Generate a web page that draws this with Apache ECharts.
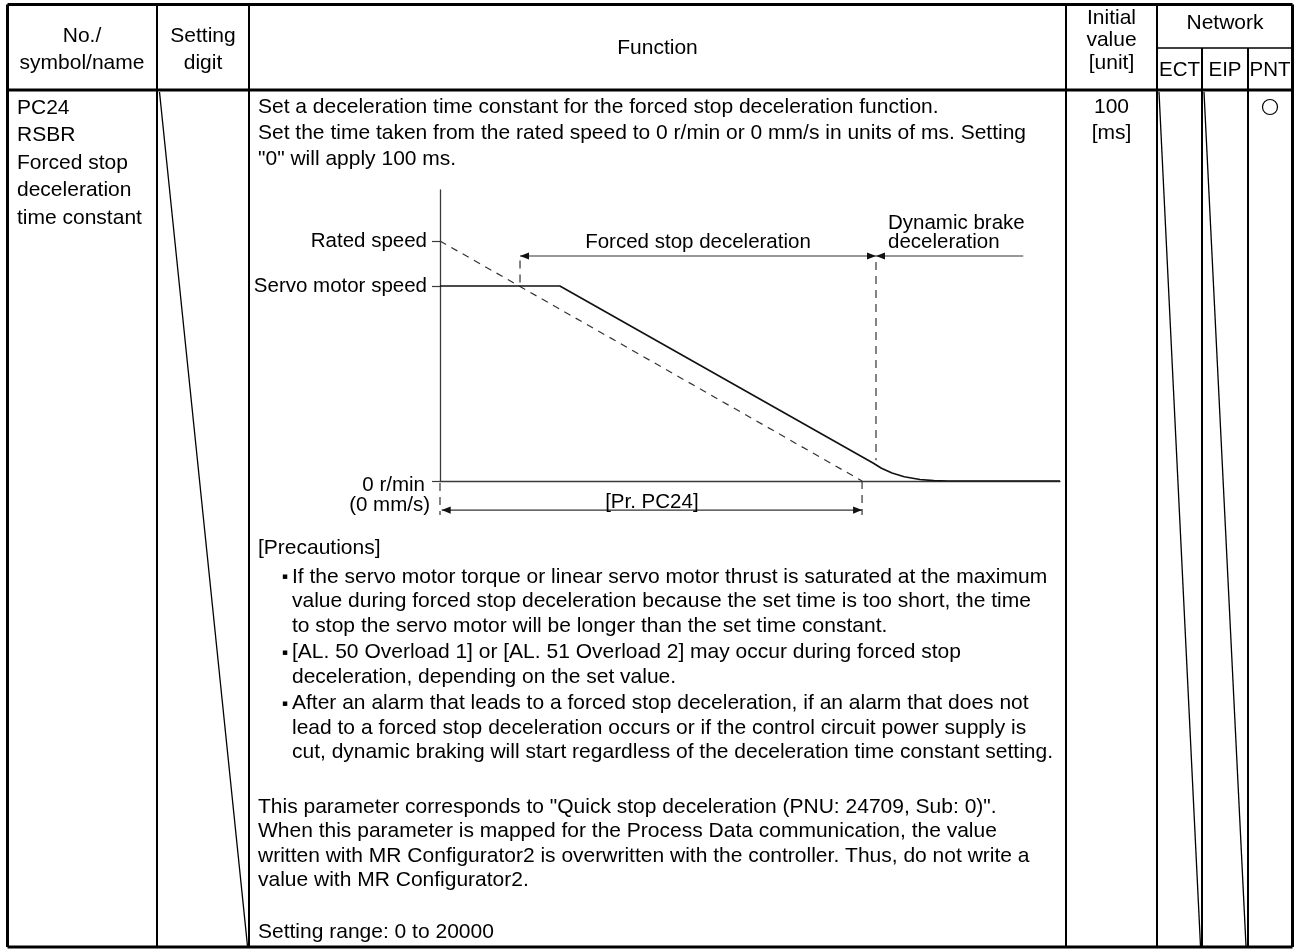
<!DOCTYPE html>
<html><head><meta charset="utf-8">
<script src="https://cdn.jsdelivr.net/npm/echarts@6/dist/echarts.min.js"></script>
<style>html,body{margin:0;padding:0;background:#fff}#c{width:1298px;height:950px}</style>
</head><body><div id="c"></div>
<script>
(function () {
// ---------------- data ----------------
// time axis: 100 = [Pr. PC24] (time from rated speed to 0), speed axis: 100 = rated speed
const timeRange = [0, 146.9];
const speedRange = [0, 121.25];
const speedTickValues = [100, 81.25, 0];
const speedTickNames = ['Rated speed', 'Servo motor speed', '0 r/min'];
const zeroSubLabel = '(0 mm/s)';
const ratedDecel = [[0, 100], [100, 0]];
const servoSpeed = [[0, 81.25], [28.4, 81.25], [102.6, 7.5], [104.6, 5.3], [107.1, 3.3], [110, 1.8], [113.7, 0.6], [117, 0.15], [120.4, 0], [146.9, 0]];
// [t1, v1, t2, v2, arrowAtStart, arrowAtEnd, dashed]
const dimensionLines = [
  [18.96, 93.75, 103.3, 93.75, 1, 1, 0],
  [103.3, 93.75, 138.2, 93.75, 1, 0, 0],
  [0.4, -12.1, 100, -12.1, 1, 1, 0],
  [18.96, 91.9, 18.96, 81.25, 0, 0, 1],
  [103.3, 91.2, 103.3, 8.6, 0, 0, 1],
  [0, -0.8, 0, -14.2, 0, 0, 1],
  [100, 0, 100, -14.2, 0, 0, 1]
];
const forcedLabel = 'Forced stop deceleration';
const brakeLabel = ['Dynamic brake', 'deceleration'];
const pc24Label = '[Pr. PC24]';

const headerCol1 = ['No./', 'symbol/name'];
const headerCol2 = ['Setting', 'digit'];
const headerFunction = 'Function';
const headerInitial = ['Initial', 'value', '[unit]'];
const headerNetwork = 'Network';
const networkNames = ['ECT', 'EIP', 'PNT'];
const nameLines = ['PC24', 'RSBR', 'Forced stop', 'deceleration', 'time constant'];
const initialValue = ['100', '[ms]'];
const introLines = [
  'Set a deceleration time constant for the forced stop deceleration function.',
  'Set the time taken from the rated speed to 0 r/min or 0 mm/s in units of ms. Setting',
  '"0" will apply 100 ms.'
];
const precautionsTitle = '[Precautions]';
const precautionItems = [
  ['If the servo motor torque or linear servo motor thrust is saturated at the maximum',
   'value during forced stop deceleration because the set time is too short, the time',
   'to stop the servo motor will be longer than the set time constant.'],
  ['[AL. 50 Overload 1] or [AL. 51 Overload 2] may occur during forced stop',
   'deceleration, depending on the set value.'],
  ['After an alarm that leads to a forced stop deceleration, if an alarm that does not',
   'lead to a forced stop deceleration occurs or if the control circuit power supply is',
   'cut, dynamic braking will start regardless of the deceleration time constant setting.']
];
const noteLines = [
  'This parameter corresponds to "Quick stop deceleration (PNU: 24709, Sub: 0)".',
  'When this parameter is mapped for the Process Data communication, the value',
  'written with MR Configurator2 is overwritten with the controller. Thus, do not write a',
  'value with MR Configurator2.'
];
const rangeLine = 'Setting range: 0 to 20000';

// ---------------- chart ----------------
const FONT = '"Liberation Sans", Arial, "DejaVu Sans", sans-serif';
const chart = echarts.init(document.getElementById('c'), null, {renderer: 'canvas'});
const axisColor = '#3a3a3a';

function head(tip, from) {
  const dx = tip[0] - from[0], dy = tip[1] - from[1];
  const len = Math.hypot(dx, dy) || 1;
  const ux = dx / len, uy = dy / len, L = 9, W = 3.6;
  return {type: 'polygon', shape: {points: [
    [tip[0], tip[1]],
    [tip[0] - ux * L - uy * W, tip[1] - uy * L + ux * W],
    [tip[0] - ux * L + uy * W, tip[1] - uy * L - ux * W]
  ]}, style: {fill: '#111'}};
}

chart.setOption({
  animation: false,
  backgroundColor: '#fff',
  grid: {left: 440, top: 190, width: 620, height: 291, containLabel: false},
  xAxis: {type: 'value', min: timeRange[0], max: timeRange[1],
    axisLine: {show: true, onZero: true, lineStyle: {color: axisColor, width: 1.3}},
    axisTick: {show: false}, axisLabel: {show: false}, splitLine: {show: false}},
  yAxis: {type: 'value', min: speedRange[0], max: speedRange[1],
    axisLine: {show: true, lineStyle: {color: axisColor, width: 1.3}},
    axisTick: {show: true, length: 8, customValues: speedTickValues, lineStyle: {color: axisColor, width: 1.2}},
    axisLabel: {show: false}, splitLine: {show: false}},
  series: [
    {type: 'line', name: 'rated', data: ratedDecel, symbol: 'none', silent: true,
      lineStyle: {color: '#333', width: 1.2, type: [7, 6]}, z: 2},
    {type: 'line', name: 'servo', data: servoSpeed, symbol: 'none', silent: true,
      lineStyle: {color: '#111', width: 1.6}, z: 3},
    {type: 'custom', name: 'dims', coordinateSystem: 'cartesian2d', silent: true,
      encode: {x: [0, 2], y: [1, 3]}, data: dimensionLines, z: 4,
      renderItem: function (params, api) {
        const a = api.coord([api.value(0), api.value(1)]);
        const b = api.coord([api.value(2), api.value(3)]);
        const dashed = api.value(6) === 1;
        const children = [{type: 'line', shape: {x1: a[0], y1: a[1], x2: b[0], y2: b[1]},
          style: {stroke: '#333', lineWidth: 1.2, lineDash: dashed ? [8, 6] : 'solid'}}];
        if (api.value(4)) children.push(head(a, b));
        if (api.value(5)) children.push(head(b, a));
        return {type: 'group', children: children};
      }}
  ]
});

const px = (t, v) => chart.convertToPixel({gridIndex: 0}, [t, v]);
const g = [];
function txt(text, x, y, opt) {
  opt = opt || {};
  g.push({type: 'text', silent: true, z: 10, style: {text: text, x: x, y: y, fill: '#000',
    fontSize: opt.size || 21, fontFamily: opt.family || FONT,
    align: opt.align || 'left', verticalAlign: 'middle'}});
}
function ln(x1, y1, x2, y2, w) {
  g.push({type: 'line', silent: true, z: 9, shape: {x1: x1, y1: y1, x2: x2, y2: y2},
    style: {stroke: '#000', lineWidth: w}});
}

// table frame
const cx = [7.5, 157, 249, 1066, 1157, 1202, 1248, 1292.5];
const tTop = 4.5, hb = 90, ns = 48, tBot = 947;
ln(cx[0], tTop, cx[7], tTop, 3);
ln(cx[0], tBot, cx[7], tBot, 3);
ln(cx[0], tTop, cx[0], tBot, 3);
ln(cx[7], tTop, cx[7], tBot, 3);
ln(cx[0], hb, cx[7], hb, 3);
ln(cx[4], ns, cx[7], ns, 1.6);
[1, 2, 3, 4].forEach(i => ln(cx[i], tTop, cx[i], tBot, 2));
[5, 6].forEach(i => ln(cx[i], ns, cx[i], tBot, 2));
ln(159.5, 92, 247.5, 946, 1.3);
ln(1159, 92, 1200.5, 946, 1.3);
ln(1204, 92, 1246, 946, 1.3);

// header
txt(headerCol1[0], 82, 36, {align: 'center'});
txt(headerCol1[1], 82, 63, {align: 'center'});
txt(headerCol2[0], 203, 36, {align: 'center'});
txt(headerCol2[1], 203, 63, {align: 'center'});
txt(headerFunction, 657.5, 48, {align: 'center'});
headerInitial.forEach((s, i) => txt(s, 1111.5, 18 + i * 22.5, {align: 'center'}));
txt(headerNetwork, 1225, 23, {align: 'center'});
[1179.5, 1225, 1270].forEach((x, i) => txt(networkNames[i], x, 70, {align: 'center', size: 20.5}));

// body columns
nameLines.forEach((s, i) => txt(s, 17, 108 + i * 27.5));
initialValue.forEach((s, i) => txt(s, 1111.5, 107 + i * 26, {align: 'center'}));
g.push({type: 'circle', silent: true, z: 10, shape: {cx: 1270, cy: 107, r: 7.5}, style: {fill: 'none', stroke: '#000', lineWidth: 1.2}});

// function column
introLines.forEach((s, i) => txt(s, 258, 107 + i * 26));
txt(precautionsTitle, 258, 548);
let y = 577;
precautionItems.forEach(item => {
  txt('\u25AA', 282, y, {size: 9, family: '"DejaVu Sans", sans-serif'});
  item.forEach(s => { txt(s, 292, y); y += 24.5; });
  y += 2;
});
noteLines.forEach((s, i) => txt(s, 258, 807 + i * 24.5));
txt(rangeLine, 258, 932);

// diagram labels from the axes
speedTickValues.forEach((v, i) => {
  const p = px(0, v);
  if (v === 0) {
    txt(speedTickNames[i], p[0] - 15, p[1] + 4, {align: 'right', size: 20.5});
    txt(zeroSubLabel, p[0] - 10, p[1] + 24, {align: 'right', size: 20.5});
  } else {
    txt(speedTickNames[i], p[0] - 13, p[1], {align: 'right', size: 20.5});
  }
});
const f1 = px((dimensionLines[0][0] + dimensionLines[0][2]) / 2, dimensionLines[0][1]);
txt(forcedLabel, f1[0], f1[1] - 14, {align: 'center', size: 20.5});
const b1 = px(dimensionLines[1][0], dimensionLines[1][1]);
txt(brakeLabel[0], b1[0] + 12, b1[1] - 33, {size: 20.5});
txt(brakeLabel[1], b1[0] + 12, b1[1] - 14, {size: 20.5});
const p1 = px((dimensionLines[2][0] + dimensionLines[2][2]) / 2, dimensionLines[2][1]);
txt(pc24Label, p1[0], p1[1] - 8, {align: 'center', size: 20.5});

chart.setOption({graphic: {elements: g}});
})();
</script></body></html>
